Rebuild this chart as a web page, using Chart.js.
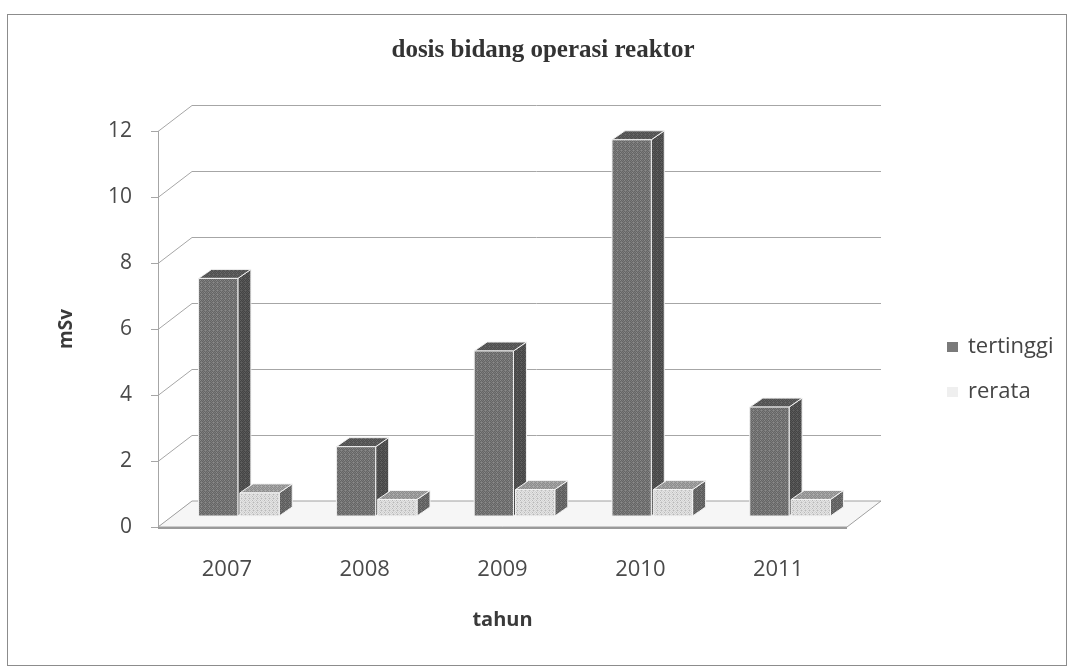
<!DOCTYPE html>
<html>
<head>
<meta charset="utf-8">
<script src="https://cdn.jsdelivr.net/npm/chart.js@4.4.0/dist/chart.umd.min.js"></script>
<style>
  html, body { margin: 0; padding: 0; background: #fff; }
  #wrap { position: relative; width: 1074px; height: 671px; }
</style>
</head>
<body>
<div id="wrap"><canvas id="c" width="1074" height="671"></canvas></div>
<script>
// data
const years = ['2007', '2008', '2009', '2010', '2011'];
const tertinggi = [7.2, 2.1, 5.0, 11.4, 3.3];
const rerata = [0.7, 0.5, 0.8, 0.8, 0.5];
const seriesNames = ['tertinggi', 'rerata'];

const FONT = "'Open Sans', 'Noto Sans', sans-serif";
const wallDepth = { dx: 34, dy: -26 };  // back wall / floor offset
const barDepth = { dx: 13, dy: -9 };    // depth of each 3d bar
const barSetback = { dx: 12, dy: -11 }; // bars sit half way back on the floor

// tiny halftone patterns so the bars look like the scan
function makePattern(a, b, c) {
  const p = document.createElement('canvas');
  p.width = 4; p.height = 4;
  const g = p.getContext('2d');
  for (let y = 0; y < 4; y++) {
    for (let x = 0; x < 4; x++) {
      g.fillStyle = (x + y) % 2 ? a : b;
      if ((x * 3 + y * 2) % 7 === 0) g.fillStyle = c;
      g.fillRect(x, y, 1, 1);
    }
  }
  return document.getElementById('c').getContext('2d').createPattern(p, 'repeat');
}

const faces = [
  { front: makePattern('#656565', '#7b7b7b', '#8a8a8a'),
    side: makePattern('#444', '#565656', '#606060'),
    top: makePattern('#4e4e4e', '#5e5e5e', '#6a6a6a'),
    legend: '#7a7a7a' },
  { front: makePattern('#e4e4e4', '#d2d2d2', '#b8b8b8'),
    side: makePattern('#5a5a5a', '#6e6e6e', '#7a7a7a'),
    top: makePattern('#8c8c8c', '#a2a2a2', '#b0b0b0'),
    legend: '#efefef' }
];

function poly(ctx, pts, fill, stroke) {
  ctx.beginPath();
  ctx.moveTo(pts[0][0], pts[0][1]);
  for (let i = 1; i < pts.length; i++) ctx.lineTo(pts[i][0], pts[i][1]);
  ctx.closePath();
  ctx.fillStyle = fill;
  ctx.fill();
  if (stroke) { ctx.strokeStyle = stroke; ctx.lineWidth = 1; ctx.stroke(); }
}

const threeD = {
  id: 'threeD',
  beforeDraw(chart) {
    const ctx = chart.ctx;
    ctx.save();
    ctx.strokeStyle = '#8c8c8c';
    ctx.lineWidth = 1;
    ctx.strokeRect(7.5, 14.5, 1059, 651);
    ctx.restore();
  },
  beforeDatasetsDraw(chart) {
    const ctx = chart.ctx;
    const { left, right, top, bottom } = chart.chartArea;
    const ys = chart.scales.y;
    ctx.save();

    // back wall grid + left wall diagonals
    ctx.strokeStyle = '#a6a6a6';
    ctx.lineWidth = 1;
    ys.ticks.forEach(t => {
      const y = Math.round(ys.getPixelForValue(t.value)) + 0.5;
      ctx.beginPath();
      ctx.moveTo(left - 7, y);
      ctx.lineTo(left, y);
      ctx.lineTo(left + wallDepth.dx, y + wallDepth.dy);
      ctx.lineTo(right + wallDepth.dx, y + wallDepth.dy);
      ctx.stroke();
    });
    ctx.beginPath();
    ctx.moveTo(left + 0.5, top);
    ctx.lineTo(left + 0.5, bottom);
    ctx.stroke();

    // floor
    const y0 = ys.getPixelForValue(0);
    poly(ctx, [[left, y0], [right, y0], [right + wallDepth.dx, y0 + wallDepth.dy],
               [left + wallDepth.dx, y0 + wallDepth.dy]], '#f6f6f6', '#a0a0a0');
    ctx.strokeStyle = '#9a9a9a';
    ctx.lineWidth = 2;
    ctx.beginPath();
    ctx.moveTo(left, y0 + 1);
    ctx.lineTo(right, y0 + 1);
    ctx.stroke();

    // bars, category by category so the front series covers the one behind
    const metas = chart.data.datasets.map((d, i) => chart.getDatasetMeta(i));
    for (let i = 0; i < years.length; i++) {
      metas.forEach((meta, d) => {
        const el = meta.data[i];
        const p = el.getProps(['x', 'y', 'width', 'base'], true);
        const l = p.x - p.width / 2 + barSetback.dx;
        const r = p.x + p.width / 2 + barSetback.dx;
        const t = p.y + barSetback.dy;
        const b = p.base + barSetback.dy;
        const f = faces[d];
        poly(ctx, [[r, t], [r + barDepth.dx, t + barDepth.dy], [r + barDepth.dx, b + barDepth.dy], [r, b]], f.side, '#f2f2f2');
        poly(ctx, [[l, t], [l + barDepth.dx, t + barDepth.dy], [r + barDepth.dx, t + barDepth.dy], [r, t]], f.top, '#f2f2f2');
        poly(ctx, [[l, t], [r, t], [r, b], [l, b]], f.front, '#f2f2f2');
      });
    }
    ctx.restore();
    return false;
  },
  afterDraw(chart) {
    // legend on the right, as in the original
    const ctx = chart.ctx;
    ctx.save();
    ctx.font = '22px ' + FONT;
    ctx.textBaseline = 'middle';
    ctx.textAlign = 'left';
    const legendY = [347, 392];
    chart.data.datasets.forEach((ds, i) => {
      ctx.fillStyle = faces[i].legend;
      ctx.fillRect(947, legendY[i] - 5, 11, 10);
      ctx.fillStyle = '#454545';
      ctx.fillText(ds.label, 968, legendY[i]);
    });
    ctx.restore();
  }
};

new Chart(document.getElementById('c'), {
  type: 'bar',
  data: {
    labels: years,
    datasets: [
      { label: seriesNames[0], data: tertinggi, backgroundColor: '#6e6e6e' },
      { label: seriesNames[1], data: rerata, backgroundColor: '#dddddd' }
    ]
  },
  options: {
    responsive: false,
    devicePixelRatio: 1,
    animation: false,
    events: [],
    categoryPercentage: 0.6,
    barPercentage: 0.95,
    layout: { padding: { left: 12, right: 0, top: 14, bottom: 34 } },
    plugins: {
      legend: { display: false },
      tooltip: { enabled: false },
      title: {
        display: true,
        text: 'dosis bidang operasi reaktor',
        color: '#333',
        font: { family: "'Liberation Serif', serif", size: 25, weight: 'bold' },
        padding: { top: 22, bottom: 65 }
      }
    },
    scales: {
      x: {
        grid: { display: false, drawTicks: false },
        border: { display: false },
        ticks: { color: '#4a4a4a', padding: 30, font: { family: FONT, size: 22 } },
        title: {
          display: true,
          text: 'tahun',
          color: '#3a3a3a',
          font: { family: FONT, size: 20, weight: 'bold' },
          padding: { top: 0, bottom: 5 }
        },
        afterFit(s) { s.height = 110; }
      },
      y: {
        min: 0,
        max: 12,
        grid: { display: false, drawTicks: false },
        border: { display: false },
        ticks: { stepSize: 2, color: '#4a4a4a', padding: 26, font: { family: FONT, size: 21 } },
        title: {
          display: true,
          text: 'mSv',
          color: '#3a3a3a',
          font: { family: FONT, size: 19, weight: 'bold' },
          padding: { top: 43, bottom: 0 }
        },
        afterFit(s) { s.width = 146; }
      },
      // empty right-hand box that leaves room for the legend
      yRoom: {
        position: 'right',
        display: true,
        grid: { display: false, drawTicks: false },
        border: { display: false },
        ticks: { display: false },
        afterFit(s) { s.width = 227; }
      }
    }
  },
  plugins: [threeD]
});
</script>
</body>
</html>
